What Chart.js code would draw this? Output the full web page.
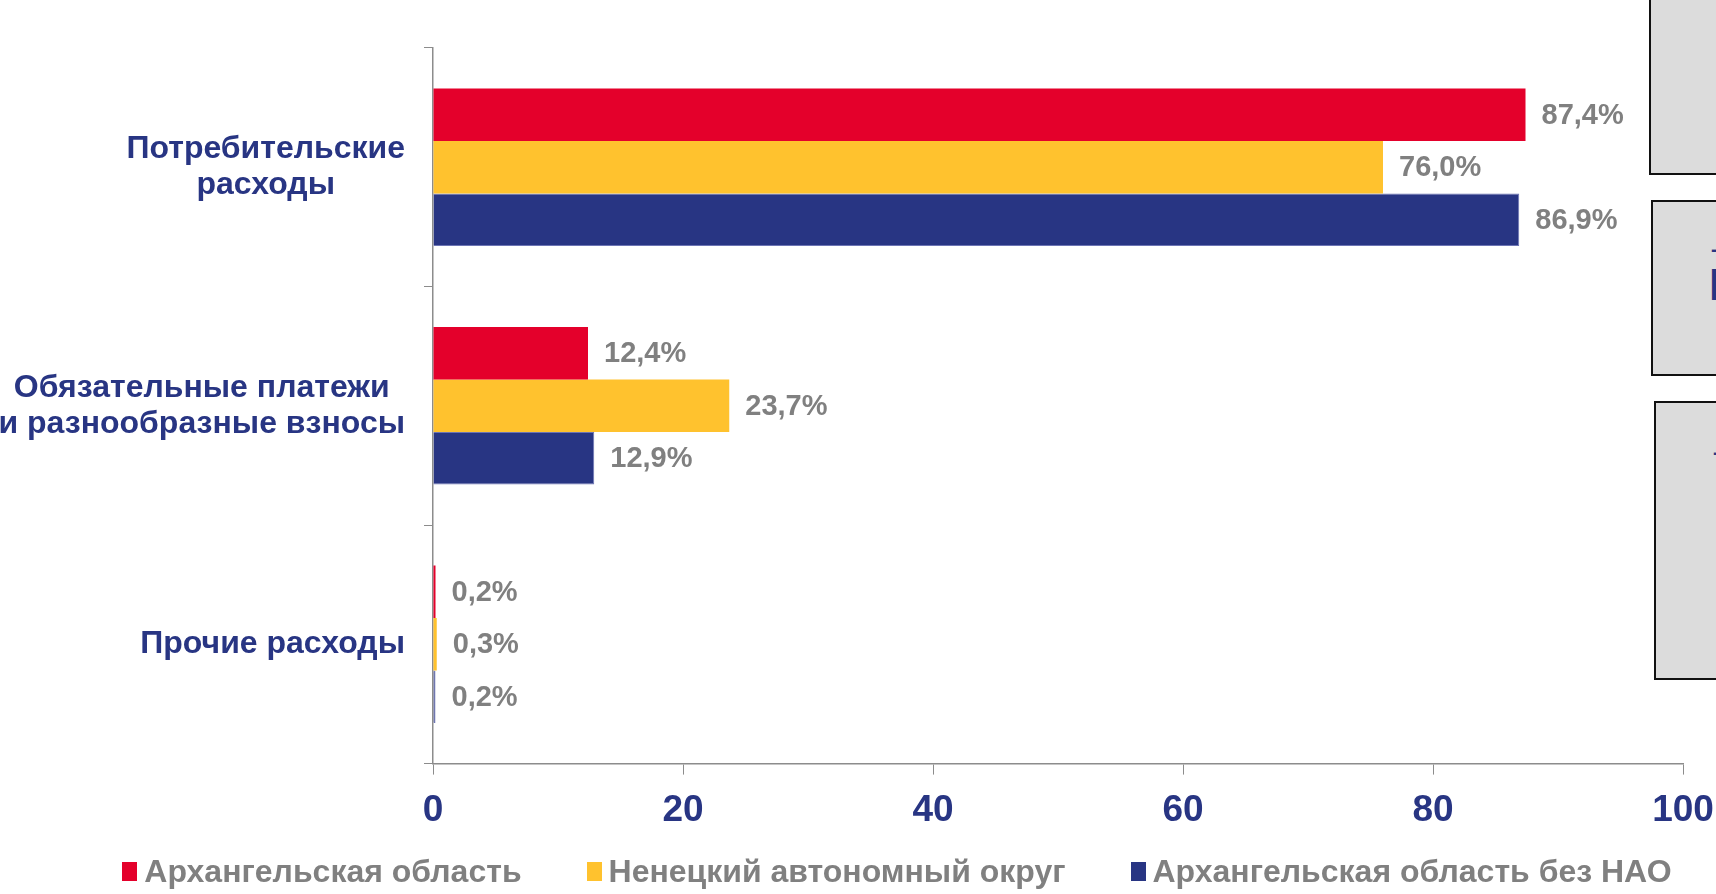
<!DOCTYPE html>
<html>
<head>
  <meta charset="utf-8">
  <title>Структура расходов</title>
  <script src="https://cdn.jsdelivr.net/npm/chart.js"></script>
  <style>
    body { margin: 0; background: #fff; font-family: "Liberation Sans", Arial, sans-serif; }
    #wrap { position: relative; width: 1716px; height: 894px; overflow: hidden; }
    #chartBox { position: absolute; left: 0; top: 0; width: 1716px; height: 894px; }
    .gbox { position: absolute; width: 200px; background: #dcdcdc; border: 2px solid #111; overflow: hidden;
            color: #283583; font-weight: bold; }
    #legend { position: absolute; left: 78px; right: 0; top: 851px; display: flex; justify-content: center; gap: 65px; }
    .item { display: flex; align-items: center; gap: 7px; font-size: 32px; font-weight: bold; color: #808080; line-height: 40px; }
    .item span.sw { display: inline-block; width: 15px; height: 19px; }
  </style>
</head>
<body>
<div id="wrap">
  <div class="gbox" style="left:1649px; top:-4px; height:175px;"></div>
  <div class="gbox" style="left:1651px; top:200px; height:172px;">
    <div style="position:absolute; left:58px; top:36px; font-size:20px;">-</div>
    <div style="position:absolute; left:56px; top:58px; font-size:44px;">Н</div>
  </div>
  <div class="gbox" style="left:1654px; top:401px; height:275px;">
    <div style="position:absolute; left:57px; top:38px; font-size:20px;">-</div>
  </div>
  <div id="chartBox"><canvas id="myChart"></canvas></div>
  <div id="legend"></div>
</div>
<script>
  // data
  const categories = [['Потребительские', 'расходы'], ['Обязательные платежи', 'и разнообразные взносы'], ['Прочие расходы']];
  const seriesNames = ['Архангельская область', 'Ненецкий автономный округ', 'Архангельская область без НАО'];
  const arkh = [87.4, 12.4, 0.2];
  const nao = [76.0, 23.7, 0.3];
  const arkhNoNao = [86.9, 12.9, 0.2];
  const xTicks = [0, 20, 40, 60, 80, 100];

  const colors = ['#e4002b', '#ffc22e', '#283583'];
  const navy = '#283583';
  const grey = '#808080';
  const FONT = '"Liberation Sans", Arial, sans-serif';

  // category labels: block right aligned, lines centred inside block
  const catLabels = {
    id: 'catLabels',
    afterDraw(chart) {
      const ctx = chart.ctx;
      const ys = chart.scales.y;
      ctx.save();
      ctx.font = 'bold 32px ' + FONT;
      ctx.fillStyle = navy;
      ctx.textAlign = 'center';
      ctx.textBaseline = 'middle';
      categories.forEach(function (lines, i) {
        const y = ys.getPixelForValue(i);
        let maxW = 0;
        lines.forEach(function (l) { maxW = Math.max(maxW, ctx.measureText(l).width); });
        const cx = 405 - maxW / 2;
        const lh = 36;
        const y0 = y - (lines.length - 1) * lh / 2;
        lines.forEach(function (l, k) { ctx.fillText(l, cx, y0 + k * lh); });
      });
      ctx.restore();
    }
  };

  // value labels right of the bars
  const valueLabels = {
    id: 'valueLabels',
    afterDatasetsDraw(chart) {
      const ctx = chart.ctx;
      ctx.save();
      ctx.font = 'bold 29px ' + FONT;
      ctx.fillStyle = grey;
      ctx.textAlign = 'left';
      ctx.textBaseline = 'middle';
      chart.data.datasets.forEach(function (ds, di) {
        chart.getDatasetMeta(di).data.forEach(function (bar, i) {
          const txt = ds.data[i].toFixed(1).replace('.', ',') + '%';
          ctx.fillText(txt, bar.x + 16, bar.y + 1);
        });
      });
      ctx.restore();
    }
  };

  const ctx = document.getElementById('myChart').getContext('2d');
  const myChart = new Chart(ctx, {
    type: 'bar',
    data: {
      labels: categories,
      datasets: [
        { label: seriesNames[0], data: arkh, backgroundColor: colors[0] },
        { label: seriesNames[1], data: nao, backgroundColor: colors[1] },
        { label: seriesNames[2], data: arkhNoNao, backgroundColor: colors[2], borderColor: '#6c74b4', borderWidth: 1 }
      ]
    },
    options: {
      indexAxis: 'y',
      responsive: true,
      maintainAspectRatio: false,
      animation: false,
      categoryPercentage: 0.66,
      barPercentage: 1.0,
      layout: { padding: { left: 0, right: 33, top: 48, bottom: 47 } },
      plugins: { legend: { display: false }, tooltip: { enabled: false } },
      scales: {
        x: {
          min: xTicks[0],
          max: xTicks[xTicks.length - 1],
          afterBuildTicks: function (scale) { scale.ticks = xTicks.map(function (v) { return { value: v }; }); },
          afterFit: function (scale) { scale.paddingLeft = 0; scale.paddingRight = 0; },
          ticks: { color: navy, font: { family: FONT, size: 37, weight: 'bold' }, padding: 14, maxRotation: 0 },
          grid: { drawOnChartArea: false, tickLength: 11, color: '#8c8c8c', lineWidth: 1 },
          border: { color: '#8c8c8c', width: 1.5 }
        },
        y: {
          afterFit: function (scale) { scale.width = 433; },
          ticks: { display: false },
          grid: { drawOnChartArea: false, tickLength: 9, color: '#8c8c8c', lineWidth: 1, offset: true },
          border: { color: '#8c8c8c', width: 1.5 }
        }
      }
    },
    plugins: [catLabels, valueLabels]
  });

  // legend built from the datasets
  const legend = document.getElementById('legend');
  myChart.data.datasets.forEach(function (ds) {
    const it = document.createElement('div');
    it.className = 'item';
    it.innerHTML = '<span class="sw" style="background:' + ds.backgroundColor + '"></span><span>' + ds.label + '</span>';
    legend.appendChild(it);
  });
</script>
</body>
</html>
